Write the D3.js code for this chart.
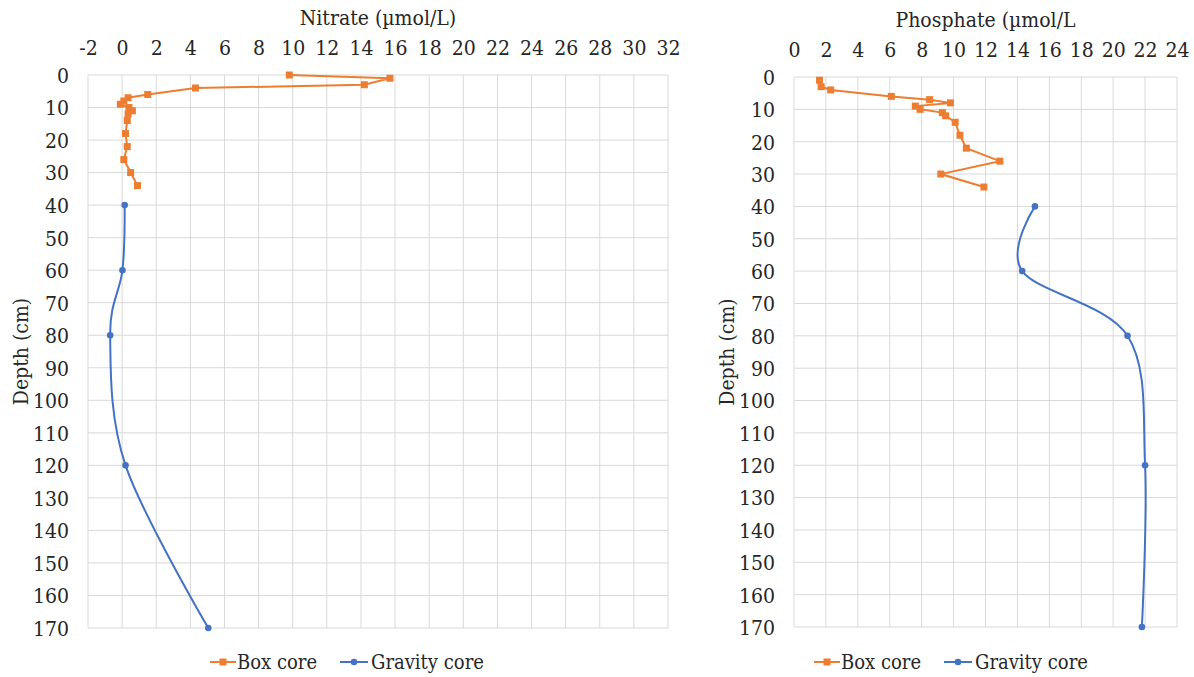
<!DOCTYPE html>
<html>
<head>
<meta charset="utf-8">
<script src="https://cdn.jsdelivr.net/npm/d3@7"></script>
<style>
  body { margin: 0; background: #fff; }
  svg { display: block; }
</style>
</head>
<body>
<svg id="chart" width="1194" height="677"></svg>
<script>
// box core (squares, straight lines)
const nitrateBoxDepth = [0, 1, 3, 4, 6, 7, 8, 9, 10, 11, 12, 14, 18, 22, 26, 30, 34];
const nitrateBox = [9.8, 15.7, 14.2, 4.3, 1.5, 0.35, 0.1, -0.1, 0.4, 0.6, 0.35, 0.3, 0.2, 0.3, 0.1, 0.5, 0.9];
const phosphateBoxDepth = [1, 3, 4, 6, 7, 8, 9, 10, 11, 12, 14, 18, 22, 26, 30, 34];
const phosphateBox = [1.6, 1.7, 2.3, 6.1, 8.5, 9.8, 7.6, 7.9, 9.3, 9.5, 10.1, 10.4, 10.8, 12.9, 9.2, 11.9];

// gravity core (circles, smoothed lines)
const gravityDepth = [40, 60, 80, 120, 170];
const nitrateGravity = [0.15, 0.02, -0.7, 0.2, 5.05];
const phosphateGravity = [15.1, 14.3, 20.9, 22.0, 21.8];

const depthTicks = d3.range(0, 171, 10);
const nitrateTicks = d3.range(-2, 33, 2);
const phosphateTicks = d3.range(0, 25, 2);

const orange = "#ED7D31", blue = "#4472C4", grid = "#D9D9D9";
const serif = "'DejaVu Serif Condensed', 'DejaVu Serif', serif";
const svg = d3.select("#chart");

function panel(opt) {
  const x = d3.scaleLinear().domain(opt.xDomain).range([opt.left, opt.right]);
  const y = d3.scaleLinear().domain([0, 170]).range([opt.top, opt.bottom]);
  const g = svg.append("g").style("font-family", serif).style("font-stretch", "condensed");

  // gridlines
  g.selectAll(".vg").data(opt.xTicks).join("line")
    .attr("x1", d => x(d)).attr("x2", d => x(d))
    .attr("y1", opt.top).attr("y2", opt.bottom)
    .attr("stroke", grid).attr("stroke-width", 1);
  g.selectAll(".hg").data(depthTicks).join("line")
    .attr("x1", opt.left).attr("x2", opt.right)
    .attr("y1", d => y(d)).attr("y2", d => y(d))
    .attr("stroke", grid).attr("stroke-width", 1);

  // axes, labels only
  const xAxis = g.append("g").attr("transform", `translate(0,${opt.top - 20})`)
    .call(d3.axisTop(x).tickValues(opt.xTicks).tickSize(0).tickPadding(0).tickFormat(d => String(d)));
  const yAxis = g.append("g").attr("transform", `translate(${opt.left - 19},0)`)
    .call(d3.axisLeft(y).tickValues(depthTicks).tickSize(0).tickPadding(0));
  [xAxis, yAxis].forEach(a => {
    a.attr("font-family", null).attr("font-size", 21);
    a.select(".domain").remove();
    a.selectAll("text").attr("fill", "#262626");
  });
  yAxis.selectAll("text").attr("dy", "0.35em");

  g.append("text").attr("x", (opt.left + opt.right) / 2).attr("y", opt.top - 50)
    .attr("text-anchor", "middle").attr("font-size", 21).attr("fill", "#262626").text(opt.title);
  g.append("text")
    .attr("transform", `translate(${opt.left - 60},${(opt.top + opt.bottom) / 2}) rotate(-90)`)
    .attr("text-anchor", "middle").attr("font-size", 21).attr("fill", "#262626").text("Depth (cm)");

  // box core
  const box = opt.boxDepth.map((d, i) => [opt.box[i], d]);
  g.append("path").datum(box)
    .attr("d", d3.line().x(d => x(d[0])).y(d => y(d[1])))
    .attr("fill", "none").attr("stroke", orange).attr("stroke-width", 2);
  g.selectAll(".sq").data(box).join("rect")
    .attr("x", d => x(d[0]) - 3.5).attr("y", d => y(d[1]) - 3.5)
    .attr("width", 7).attr("height", 7).attr("fill", orange);

  // gravity core, smoothed like excel
  const grav = gravityDepth.map((d, i) => [opt.gravity[i], d]);
  g.append("path").datum(grav)
    .attr("d", d3.line().x(d => x(d[0])).y(d => y(d[1])).curve(d3.curveCatmullRom.alpha(0)))
    .attr("fill", "none").attr("stroke", blue).attr("stroke-width", 2);
  g.selectAll(".ci").data(grav).join("circle")
    .attr("cx", d => x(d[0])).attr("cy", d => y(d[1])).attr("r", 3.3).attr("fill", blue);

  // legend
  const lg = g.append("g").attr("transform", `translate(${opt.legendX},662)`)
    .attr("font-size", 20).attr("fill", "#262626");
  lg.append("line").attr("x1", 0).attr("x2", 26).attr("stroke", orange).attr("stroke-width", 2);
  lg.append("rect").attr("x", 9.5).attr("y", -3.5).attr("width", 7).attr("height", 7).attr("fill", orange);
  lg.append("text").attr("x", 27).attr("dy", "0.35em").text("Box core");
  lg.append("line").attr("x1", 130).attr("x2", 158).attr("stroke", blue).attr("stroke-width", 2);
  lg.append("circle").attr("cx", 144).attr("r", 3.3).attr("fill", blue);
  lg.append("text").attr("x", 161).attr("dy", "0.35em").text("Gravity core");
}

panel({
  left: 88, right: 668, top: 75, bottom: 628,
  xDomain: [-2, 32], xTicks: nitrateTicks,
  title: "Nitrate (\u00b5mol/L)",
  boxDepth: nitrateBoxDepth, box: nitrateBox, gravity: nitrateGravity,
  legendX: 210
});
panel({
  left: 794, right: 1177, top: 77, bottom: 627,
  xDomain: [0, 24], xTicks: phosphateTicks,
  title: "Phosphate (\u00b5mol/L",
  boxDepth: phosphateBoxDepth, box: phosphateBox, gravity: phosphateGravity,
  legendX: 814
});
</script>
</body>
</html>
